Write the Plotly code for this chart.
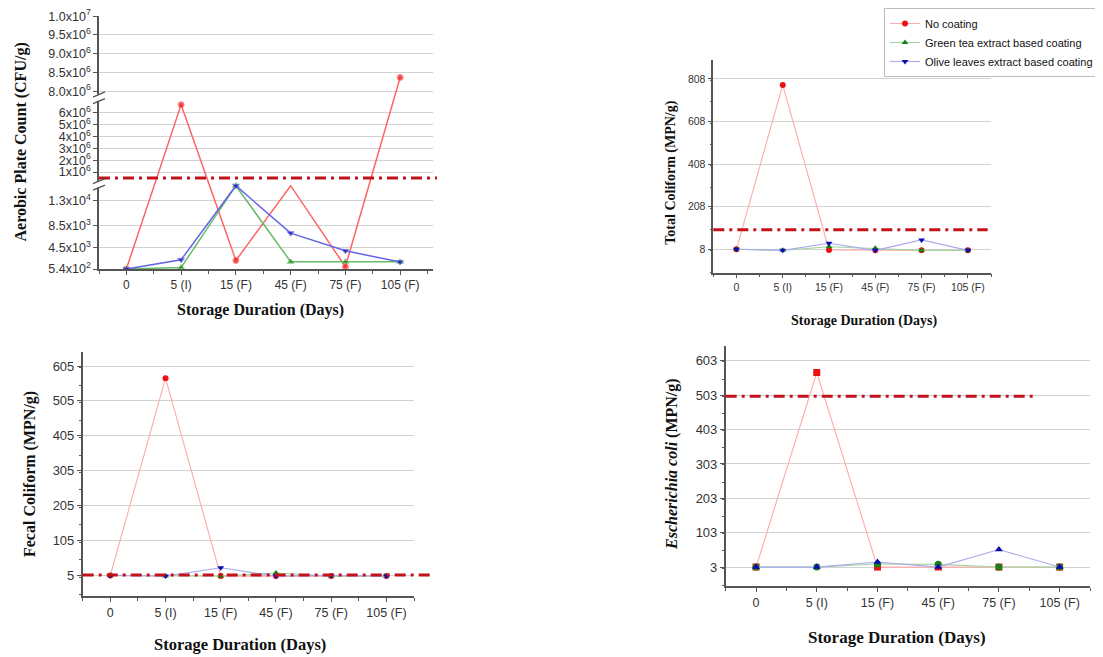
import plotly.graph_objects as go

# ---------------- data ----------------
days = ["0", "5 (I)", "15 (F)", "45 (F)", "75 (F)", "105 (F)"]
series_names = ["No coating", "Green tea extract based coating", "Olive leaves extract based coating"]

# Aerobic plate count (CFU/g)
apc_no = [540, 6.7e6, 2100, 2.0e4, 960, 8.37e6]
apc_green = [540, 830, 15800, 1870, 1870, 1870]
apc_olive = [540, 2240, 15800, 7110, 3880, 1820]
apc_limit = 5.0e5
apc_ticks = [540, 4500, 8500, 13000, 1e6, 2e6, 3e6, 4e6, 5e6, 6e6, 8.0e6, 8.5e6, 9.0e6, 9.5e6, 1.0e7]
apc_ticktext = ["5.4x10<sup>2</sup>", "4.5x10<sup>3</sup>", "8.5x10<sup>3</sup>", "1.3x10<sup>4</sup>",
                "1x10<sup>6</sup>", "2x10<sup>6</sup>", "3x10<sup>6</sup>", "4x10<sup>6</sup>",
                "5x10<sup>6</sup>", "6x10<sup>6</sup>", "8.0x10<sup>6</sup>", "8.5x10<sup>6</sup>",
                "9.0x10<sup>6</sup>", "9.5x10<sup>6</sup>", "1.0x10<sup>7</sup>"]

# Total coliform (MPN/g)
tc_no = [8, 780, 5, 3, 3, 3]
tc_green = [8, 3, 20, 13, 3, 3]
tc_olive = [8, 3, 36, 3, 52, 3]
tc_limit = 100

# Fecal coliform (MPN/g)
fc_no = [5, 570, 3, 3, 3, 3]
fc_green = [5, 3, 3, 12, 3, 3]
fc_olive = [5, 3, 27, 3, 5, 3]
fc_limit = 6

# Escherichia coli (MPN/g)
ec_no = [3, 569, 3, 3, 3, 3]
ec_green = [3, 3, 12, 11, 3, 3]
ec_olive = [3, 3, 18, 3, 54, 3]
ec_limit = 500

# ---------------- broken-axis scale for panel 1 ----------------
# (value_low, value_high, axis_frac_low, axis_frac_high)
APC_SEGMENTS = [(540, 15800, 0.0, 0.3297), (6.5e4, 7.07e6, 0.34, 0.6676), (7.88e6, 1.0e7, 0.685, 1.0)]


def broken_scale(v):
    for lo, hi, a, b in APC_SEGMENTS:
        if lo <= v <= hi:
            return a + (v - lo) / (hi - lo) * (b - a), True
    # value inside a break: clamp to top of the lower segment (hidden marker)
    prev = APC_SEGMENTS[0]
    for seg in APC_SEGMENTS:
        if v < seg[0]:
            return prev[3], False
        prev = seg
    return APC_SEGMENTS[-1][3], False


# page body has an 8px margin: the figure is drawn 8px right/down of the window origin
OFF = 8
W, H = 1103 - OFF, 657 - OFF
TICKFONT = "Liberation Sans, Arial, sans-serif"
TITLEFONT = "Liberation Serif, Times New Roman, serif"
RED, GREEN, BLUE = "#ee1111", "#168016", "#0a0ab4"
LIMIT_COLOR = "#c4121a"
TICKCOLOR = "#333333"

xi = list(range(len(days)))

fig = go.Figure()

# panel 1 traces
p1_styles = [("#ff6464", RED, "circle"), ("#66bb66", GREEN, "triangle-up"), ("#6464e6", BLUE, "triangle-down")]
for name, vals, (lc, mc, sym) in zip(series_names, [apc_no, apc_green, apc_olive], p1_styles):
    conv = [broken_scale(v) for v in vals]
    fig.add_trace(go.Scatter(
        x=xi, y=[c[0] for c in conv], customdata=vals, mode="lines+markers", name=name,
        showlegend=False, xaxis="x", yaxis="y",
        line=dict(color=lc, width=1.5),
        marker=dict(color=mc, symbol=sym, size=[6 if c[1] else 0 for c in conv]),
        hovertemplate="%{customdata:.3s}<extra>" + name + "</extra>"))

# panels 2-4
light = ["#ffaaaa", "#a6d6a6", "#aaaaee"]
panel_specs = [
    ("x2", "y2", [tc_no, tc_green, tc_olive], ["circle", "triangle-up", "triangle-down"], True, 6),
    ("x3", "y3", [fc_no, fc_green, fc_olive], ["circle", "triangle-up", "triangle-down"], False, 6),
    ("x4", "y4", [ec_no, ec_green, ec_olive], ["square", "circle", "triangle-up"], False, 7),
]
for xa, ya, data, syms, legend, msize in panel_specs:
    for name, vals, lc, mc, sym in zip(series_names, data, light, [RED, GREEN, BLUE], syms):
        fig.add_trace(go.Scatter(
            x=xi, y=vals, mode="lines+markers", name=name, showlegend=legend,
            xaxis=xa, yaxis=ya, line=dict(color=lc, width=1.1),
            marker=dict(color=mc, symbol=sym, size=msize)))

# ---------------- axes ----------------
def px_dom(a, b):
    return [(a - OFF) / W, (b - OFF) / W]


def py_dom(top, bottom):
    return [1 - (bottom - OFF) / H, 1 - (top - OFF) / H]


def xaxis(dom, anchor, fs, rng):
    return dict(domain=dom, anchor=anchor, range=rng, tickvals=xi, ticktext=days,
                showline=True, linecolor="#555", linewidth=1.5, ticks="outside",
                ticklen=4, tickcolor="#555", showgrid=False, zeroline=False,
                automargin=False,
                tickfont=dict(family=TICKFONT, size=fs, color=TICKCOLOR),
                minor=dict(dtick=0.5, ticks="outside", ticklen=3, tickcolor="#555"))


def yaxis(dom, anchor, fs, rng, tick0, dtick):
    return dict(domain=dom, anchor=anchor, range=rng, tick0=tick0, dtick=dtick,
                showline=True, linecolor="#555", linewidth=1.5, ticks="outside",
                ticklen=4, tickcolor="#555", showgrid=True, gridcolor="#d2d2d2",
                gridwidth=1.4, zeroline=False, automargin=False,
                tickfont=dict(family=TICKFONT, size=fs, color=TICKCOLOR),
                minor=dict(dtick=dtick / 2, ticks="outside", ticklen=2, tickcolor="#555", showgrid=False))


p1_y = [round(broken_scale(v)[0], 6) for v in apc_ticks]
fig.update_layout(
    xaxis=xaxis(px_dom(99, 433), "y", 12, [-0.5, 5.6]),
    yaxis=dict(domain=py_dom(15.7, 269.3), anchor="x", range=[-0.001, 1.002], tickvals=p1_y,
               ticktext=apc_ticktext, showline=True, linecolor="#555", linewidth=1.5,
               ticks="outside", ticklen=4, tickcolor="#555", showgrid=True,
               gridcolor="#d2d2d2", gridwidth=1.4, zeroline=False, automargin=False,
               ticklabeloverflow="allow",
               tickfont=dict(family=TICKFONT, size=12.5, color=TICKCOLOR)),
    xaxis2=xaxis(px_dom(713.3, 991), "y2", 10.5, [-0.5, 5.5]),
    yaxis2=yaxis(py_dom(60, 272.7), "x2", 10.5, [-102, 897], 8, 200),
    xaxis3=xaxis(px_dom(82.7, 414), "y3", 12.5, [-0.5, 5.5]),
    yaxis3=yaxis(py_dom(351.7, 596), "x3", 13, [-54, 646], 5, 100),
    xaxis4=xaxis(px_dom(725.7, 1090), "y4", 12.5, [-0.5, 5.5]),
    yaxis4=yaxis(py_dom(346, 586), "x4", 13, [-52, 646], 3, 100),
)

# ---------------- limit lines ----------------
limit_dash = "11px,5px,3px,5px"
for xref, yref, val, x0, x1 in [("x domain", "y", broken_scale(apc_limit)[0], 0, 1.012),
                                 ("x2 domain", "y2", tc_limit, 0, 0.988),
                                 ("x3 domain", "y3", fc_limit, 0, 1.048),
                                 ("x4 domain", "y4", ec_limit, 0, 0.855)]:
    fig.add_shape(type="line", xref=xref, yref=yref, x0=x0, x1=x1, y0=val, y1=val,
                  line=dict(color=LIMIT_COLOR, width=3, dash=limit_dash), layer="above")

# ---------------- axis-break marks on panel 1 ----------------
for lo_seg, hi_seg in zip(APC_SEGMENTS[:-1], APC_SEGMENTS[1:]):
    c = (lo_seg[3] + hi_seg[2]) / 2
    fig.add_shape(type="rect", xref="x domain", yref="y domain", x0=-0.012, x1=0.012,
                  y0=c - 0.012, y1=c + 0.012, line=dict(width=0), fillcolor="white", layer="above")
    for off in (-0.013, 0.013):
        fig.add_shape(type="line", xref="x domain", yref="y domain", x0=-0.018, x1=0.018,
                      y0=c + off - 0.01, y1=c + off + 0.01, line=dict(color="#555", width=1.3),
                      layer="above")

# ---------------- titles ----------------
def ann(text, x, y, size, angle=0):
    fig.add_annotation(text=text, x=(x - OFF) / W, y=1 - (y - OFF) / H, xref="paper", yref="paper",
                       showarrow=False, textangle=angle, xanchor="center", yanchor="middle",
                       font=dict(family=TITLEFONT, size=size, color="#111"))


xt = "<b>Storage Duration (Days)</b>"
ann(xt, 260, 310, 16)
ann(xt, 864, 320.7, 14)
ann(xt, 240, 644, 16.5)
ann(xt, 896.7, 637.7, 17)
ann("<b>Aerobic Plate Count (CFU/g)</b>", 20.5, 142, 16, -90)
ann("<b>Total Coliform (MPN/g)</b>", 670.7, 173, 14, -90)
ann("<b>Fecal Coliform (MPN/g)</b>", 30, 474, 16, -90)
ann("<b><i>Escherichia coli</i> (MPN/g)</b>", 672, 464, 16, -90)

fig.update_layout(
    width=W, height=H, margin=dict(l=0, r=0, t=0, b=0, autoexpand=False),
    paper_bgcolor="white", plot_bgcolor="white",
    legend=dict(x=(884 - OFF) / W, y=1 - (8 - OFF) / H, xanchor="left", yanchor="top",
                bordercolor="#bdbdbd", borderwidth=1, bgcolor="white",
                font=dict(family=TICKFONT, size=11, color="#111"),
                itemwidth=30, tracegroupgap=0),
    showlegend=True,
)

fig.write_html("out.html")
